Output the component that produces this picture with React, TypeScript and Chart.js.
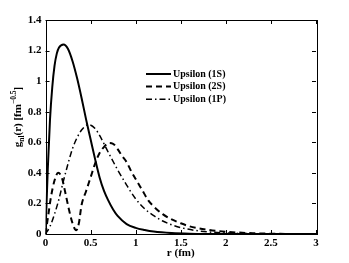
import React, { useEffect, useRef } from "react";
import { Chart, registerables } from "chart.js";
Chart.register(...registerables);

const r1S = [0, 0.025, 0.05, 0.075, 0.1, 0.125, 0.15, 0.2, 0.25, 0.3, 0.35, 0.4, 0.45, 0.5, 0.55, 0.6, 0.65, 0.7, 0.75, 0.8, 0.9, 1.0, 1.1, 1.2, 1.4, 1.6, 2.0, 3.0];
const v1S = [0, 0.42, 0.75, 0.96, 1.1, 1.18, 1.22, 1.24, 1.21, 1.13, 1.02, 0.89, 0.75, 0.62, 0.49, 0.37, 0.28, 0.215, 0.16, 0.118, 0.065, 0.04, 0.026, 0.016, 0.006, 0.002, 0, 0];

const r2S = [0, 0.03, 0.06, 0.1, 0.14, 0.18, 0.22, 0.26, 0.3, 0.34, 0.37, 0.4, 0.45, 0.5, 0.55, 0.6, 0.65, 0.7, 0.75, 0.8, 0.85, 0.9, 0.96, 1.0, 1.07, 1.14, 1.2, 1.3, 1.4, 1.5, 1.6, 1.8, 2.0, 2.3, 2.6, 3.0];
const v2S = [0, 0.12, 0.24, 0.35, 0.4, 0.37, 0.27, 0.16, 0.07, 0.025, 0.07, 0.19, 0.28, 0.37, 0.46, 0.53, 0.57, 0.595, 0.59, 0.555, 0.51, 0.47, 0.4, 0.36, 0.29, 0.22, 0.18, 0.13, 0.095, 0.07, 0.05, 0.028, 0.015, 0.005, 0.001, 0];

const r1P = [0, 0.05, 0.1, 0.15, 0.2, 0.25, 0.3, 0.35, 0.4, 0.45, 0.48, 0.55, 0.6, 0.7, 0.8, 0.9, 1.0, 1.1, 1.2, 1.3, 1.4, 1.5, 1.7, 2.0, 2.5, 3.0];
const v1P = [0, 0.05, 0.13, 0.23, 0.35, 0.46, 0.56, 0.63, 0.68, 0.71, 0.715, 0.69, 0.645, 0.53, 0.42, 0.32, 0.23, 0.165, 0.12, 0.085, 0.06, 0.042, 0.02, 0.007, 0.001, 0];

const seriesNames = ["Upsilon (1S)", "Upsilon (2S)", "Upsilon (1P)"];
const xTicks = [0, 0.5, 1, 1.5, 2, 2.5, 3];
const yTicks = [0, 0.2, 0.4, 0.6, 0.8, 1, 1.2, 1.4];
const xTitle = "r (fm)";

const FONT = "'Liberation Serif', 'Times New Roman', serif";
const dashes: number[][] = [[], [6, 4], [6, 3, 1.5, 3]];
const widths = [2, 2, 1.5];

const toPts = (xs: number[], ys: number[]) => xs.map((x, i) => ({ x, y: ys[i] }));

const framePlugin = {
  id: "frame",
  afterDraw(chart: any) {
    const { ctx, chartArea: a, scales } = chart;
    const xs = scales.x, ys = scales.y;
    ctx.save();
    ctx.strokeStyle = "#000";
    ctx.lineWidth = 1;
    ctx.setLineDash([]);
    ctx.strokeRect(Math.round(a.left) + 0.5, Math.round(a.top) + 0.5, Math.round(a.right - a.left), Math.round(a.bottom - a.top));
    const tl = 4;
    ctx.beginPath();
    xTicks.forEach((v) => {
      const px = Math.round(xs.getPixelForValue(v)) + 0.5;
      ctx.moveTo(px, a.bottom); ctx.lineTo(px, a.bottom - tl);
      ctx.moveTo(px, a.top); ctx.lineTo(px, a.top + tl);
    });
    yTicks.forEach((v) => {
      const py = Math.round(ys.getPixelForValue(v)) + 0.5;
      ctx.moveTo(a.left, py); ctx.lineTo(a.left + tl, py);
      ctx.moveTo(a.right, py); ctx.lineTo(a.right - tl, py);
    });
    ctx.stroke();

    // legend
    ctx.fillStyle = "#000";
    ctx.font = `bold 10px ${FONT}`;
    ctx.textBaseline = "middle";
    ctx.textAlign = "left";
    seriesNames.forEach((name, i) => {
      const y = 74 + i * 12.6;
      ctx.beginPath();
      ctx.setLineDash(dashes[i]);
      ctx.lineWidth = widths[i];
      ctx.moveTo(146, y); ctx.lineTo(171, y);
      ctx.stroke();
      ctx.fillText(name, 173, y);
    });
    ctx.setLineDash([]);

    // x title
    ctx.font = `bold 11px ${FONT}`;
    ctx.textAlign = "center";
    ctx.textBaseline = "middle";
    ctx.fillText(xTitle, (a.left + a.right) / 2, 253);

    // y title with sub/superscripts
    const segs: [string, number, number][] = [
      ["g", 11, 0], ["nl", 7.5, 2.5], ["(r) [fm", 11, 0], ["\u22120.5", 7.5, -5], ["]", 11, 0],
    ];
    let total = 0;
    segs.forEach(([t, s]) => { ctx.font = `bold ${s}px ${FONT}`; total += ctx.measureText(t).width; });
    ctx.translate(21, 117);
    ctx.rotate(-Math.PI / 2);
    ctx.textAlign = "left";
    ctx.textBaseline = "alphabetic";
    let cx = -total / 2;
    segs.forEach(([t, s, dy]) => {
      ctx.font = `bold ${s}px ${FONT}`;
      ctx.fillText(t, cx, dy);
      cx += ctx.measureText(t).width;
    });
    ctx.restore();
  },
};

export default function App() {
  const ref = useRef<HTMLCanvasElement | null>(null);
  useEffect(() => {
    document.body.style.margin = "0";
    const mk = (label: string, xs: number[], ys: number[], i: number) => ({
      label,
      data: toPts(xs, ys),
      borderColor: "#000",
      backgroundColor: "#000",
      borderWidth: widths[i],
      borderDash: dashes[i],
      pointRadius: 0,
      cubicInterpolationMode: "monotone" as const,
      fill: false,
    });
    const chart = new Chart(ref.current!, {
      type: "line",
      data: {
        datasets: [
          mk(seriesNames[0], r1S, v1S, 0),
          mk(seriesNames[1], r2S, v2S, 1),
          mk(seriesNames[2], r1P, v1P, 2),
        ],
      },
      options: {
        animation: false,
        responsive: false,
        maintainAspectRatio: false,
        layout: { padding: { top: 20, right: 33, left: 0, bottom: 0 } },
        plugins: { legend: { display: false }, tooltip: { enabled: false } },
        scales: {
          x: {
            type: "linear",
            min: 0,
            max: 3,
            grid: { display: false, drawTicks: false },
            border: { display: false },
            afterBuildTicks: (s: any) => { s.ticks = xTicks.map((v) => ({ value: v })); },
            afterFit: (s: any) => { s.height = 29; },
            ticks: {
              color: "#000",
              padding: 3,
              maxRotation: 0,
              font: { family: FONT, size: 11, weight: "bold" },
              callback: (v: any) => String(v),
            },
          },
          y: {
            type: "linear",
            min: 0,
            max: 1.4,
            grid: { display: false, drawTicks: false },
            border: { display: false },
            afterBuildTicks: (s: any) => { s.ticks = yTicks.map((v) => ({ value: v })); },
            afterFit: (s: any) => { s.width = 45.5; },
            ticks: {
              color: "#000",
              padding: 4,
              font: { family: FONT, size: 11, weight: "bold" },
              callback: (v: any) => String(v),
            },
          },
        },
      },
      plugins: [framePlugin],
    });
    return () => chart.destroy();
  }, []);
  return (
    <div style={{ width: 349, height: 263 }}>
      <canvas ref={ref} width={349} height={263} style={{ width: 349, height: 263, display: "block" }} />
    </div>
  );
}
